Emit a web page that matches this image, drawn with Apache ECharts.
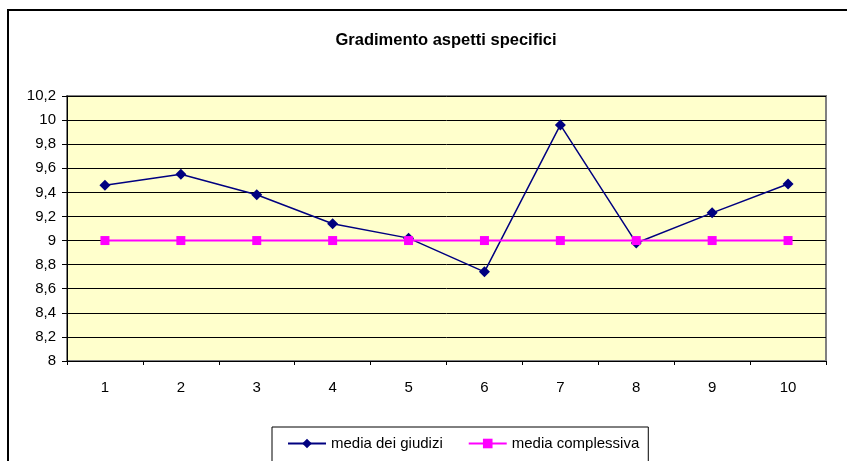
<!DOCTYPE html>
<html>
<head>
<meta charset="utf-8">
<script src="https://cdn.jsdelivr.net/npm/echarts@6/dist/echarts.min.js"></script>
<style>html,body{margin:0;padding:0;background:#fff;}#c{width:847px;height:461px;}</style>
</head>
<body>
<div id="c"></div>
<script>
var categories = ['1','2','3','4','5','6','7','8','9','10'];
var mediaGiudizi = [9.46, 9.55, 9.38, 9.14, 9.02, 8.74, 9.96, 8.98, 9.23, 9.47];
var mediaComplessiva = [9, 9, 9, 9, 9, 9, 9, 9, 9, 9];
var seriesNames = ['media dei giudizi', 'media complessiva'];
var titleText = 'Gradimento aspetti specifici';

var chart = echarts.init(document.getElementById('c'), null, {renderer: 'canvas'});
chart.setOption({
  animation: false,
  backgroundColor: '#fff',
  graphic: [{
    type: 'rect',
    shape: {x: 8, y: 10, width: 900, height: 500},
    style: {fill: 'none', stroke: '#000', lineWidth: 2},
    silent: true,
    z: 0
  }],
  title: {
    text: titleText,
    left: 441,
    textAlign: 'center',
    top: 27,
    textStyle: {fontFamily: 'Liberation Sans Narrow, Liberation Sans, Arial', fontWeight: 'bold', fontSize: 16.5, color: '#000'}
  },
  legend: {
    data: seriesNames,
    left: 272,
    top: 427,
    padding: [9, 9, 30, 15],
    itemGap: 25,
    itemWidth: 38,
    itemHeight: 12,
    borderColor: '#000',
    borderWidth: 1,
    textStyle: {fontFamily: 'Liberation Sans, Arial', fontSize: 15, color: '#000'}
  },
  grid: {
    left: 67, top: 96, right: 21, bottom: 100,
    show: true,
    backgroundColor: '#FFFFCC',
    borderColor: '#808080',
    borderWidth: 2
  },
  xAxis: {
    type: 'category',
    data: categories,
    boundaryGap: true,
    axisLine: {show: true, lineStyle: {color: '#000', width: 1}},
    axisTick: {show: true, length: 4, lineStyle: {color: '#000'}},
    axisLabel: {fontFamily: 'Liberation Sans, Arial', fontSize: 15, color: '#000', margin: 19}
  },
  yAxis: {
    type: 'value',
    min: 8,
    max: 10.2,
    interval: 0.2,
    axisLine: {show: true, lineStyle: {color: '#000', width: 1}},
    axisTick: {show: true, length: 5, lineStyle: {color: '#000'}},
    axisLabel: {
      fontFamily: 'Liberation Sans, Arial', fontSize: 15, color: '#000', margin: 11,
      formatter: function (v) { return String(Math.round(v * 10) / 10).replace('.', ','); }
    },
    splitLine: {show: true, lineStyle: {color: '#000', width: 1}}
  },
  series: [
    {
      name: seriesNames[0],
      type: 'line',
      data: mediaGiudizi,
      symbol: 'diamond',
      symbolSize: 11,
      itemStyle: {color: '#000080'},
      lineStyle: {color: '#000080', width: 1.5}
    },
    {
      name: seriesNames[1],
      type: 'line',
      data: mediaComplessiva,
      symbol: 'rect',
      symbolSize: 9,
      itemStyle: {color: '#FF00FF'},
      lineStyle: {color: '#FF00FF', width: 2}
    }
  ]
});
</script>
</body>
</html>
